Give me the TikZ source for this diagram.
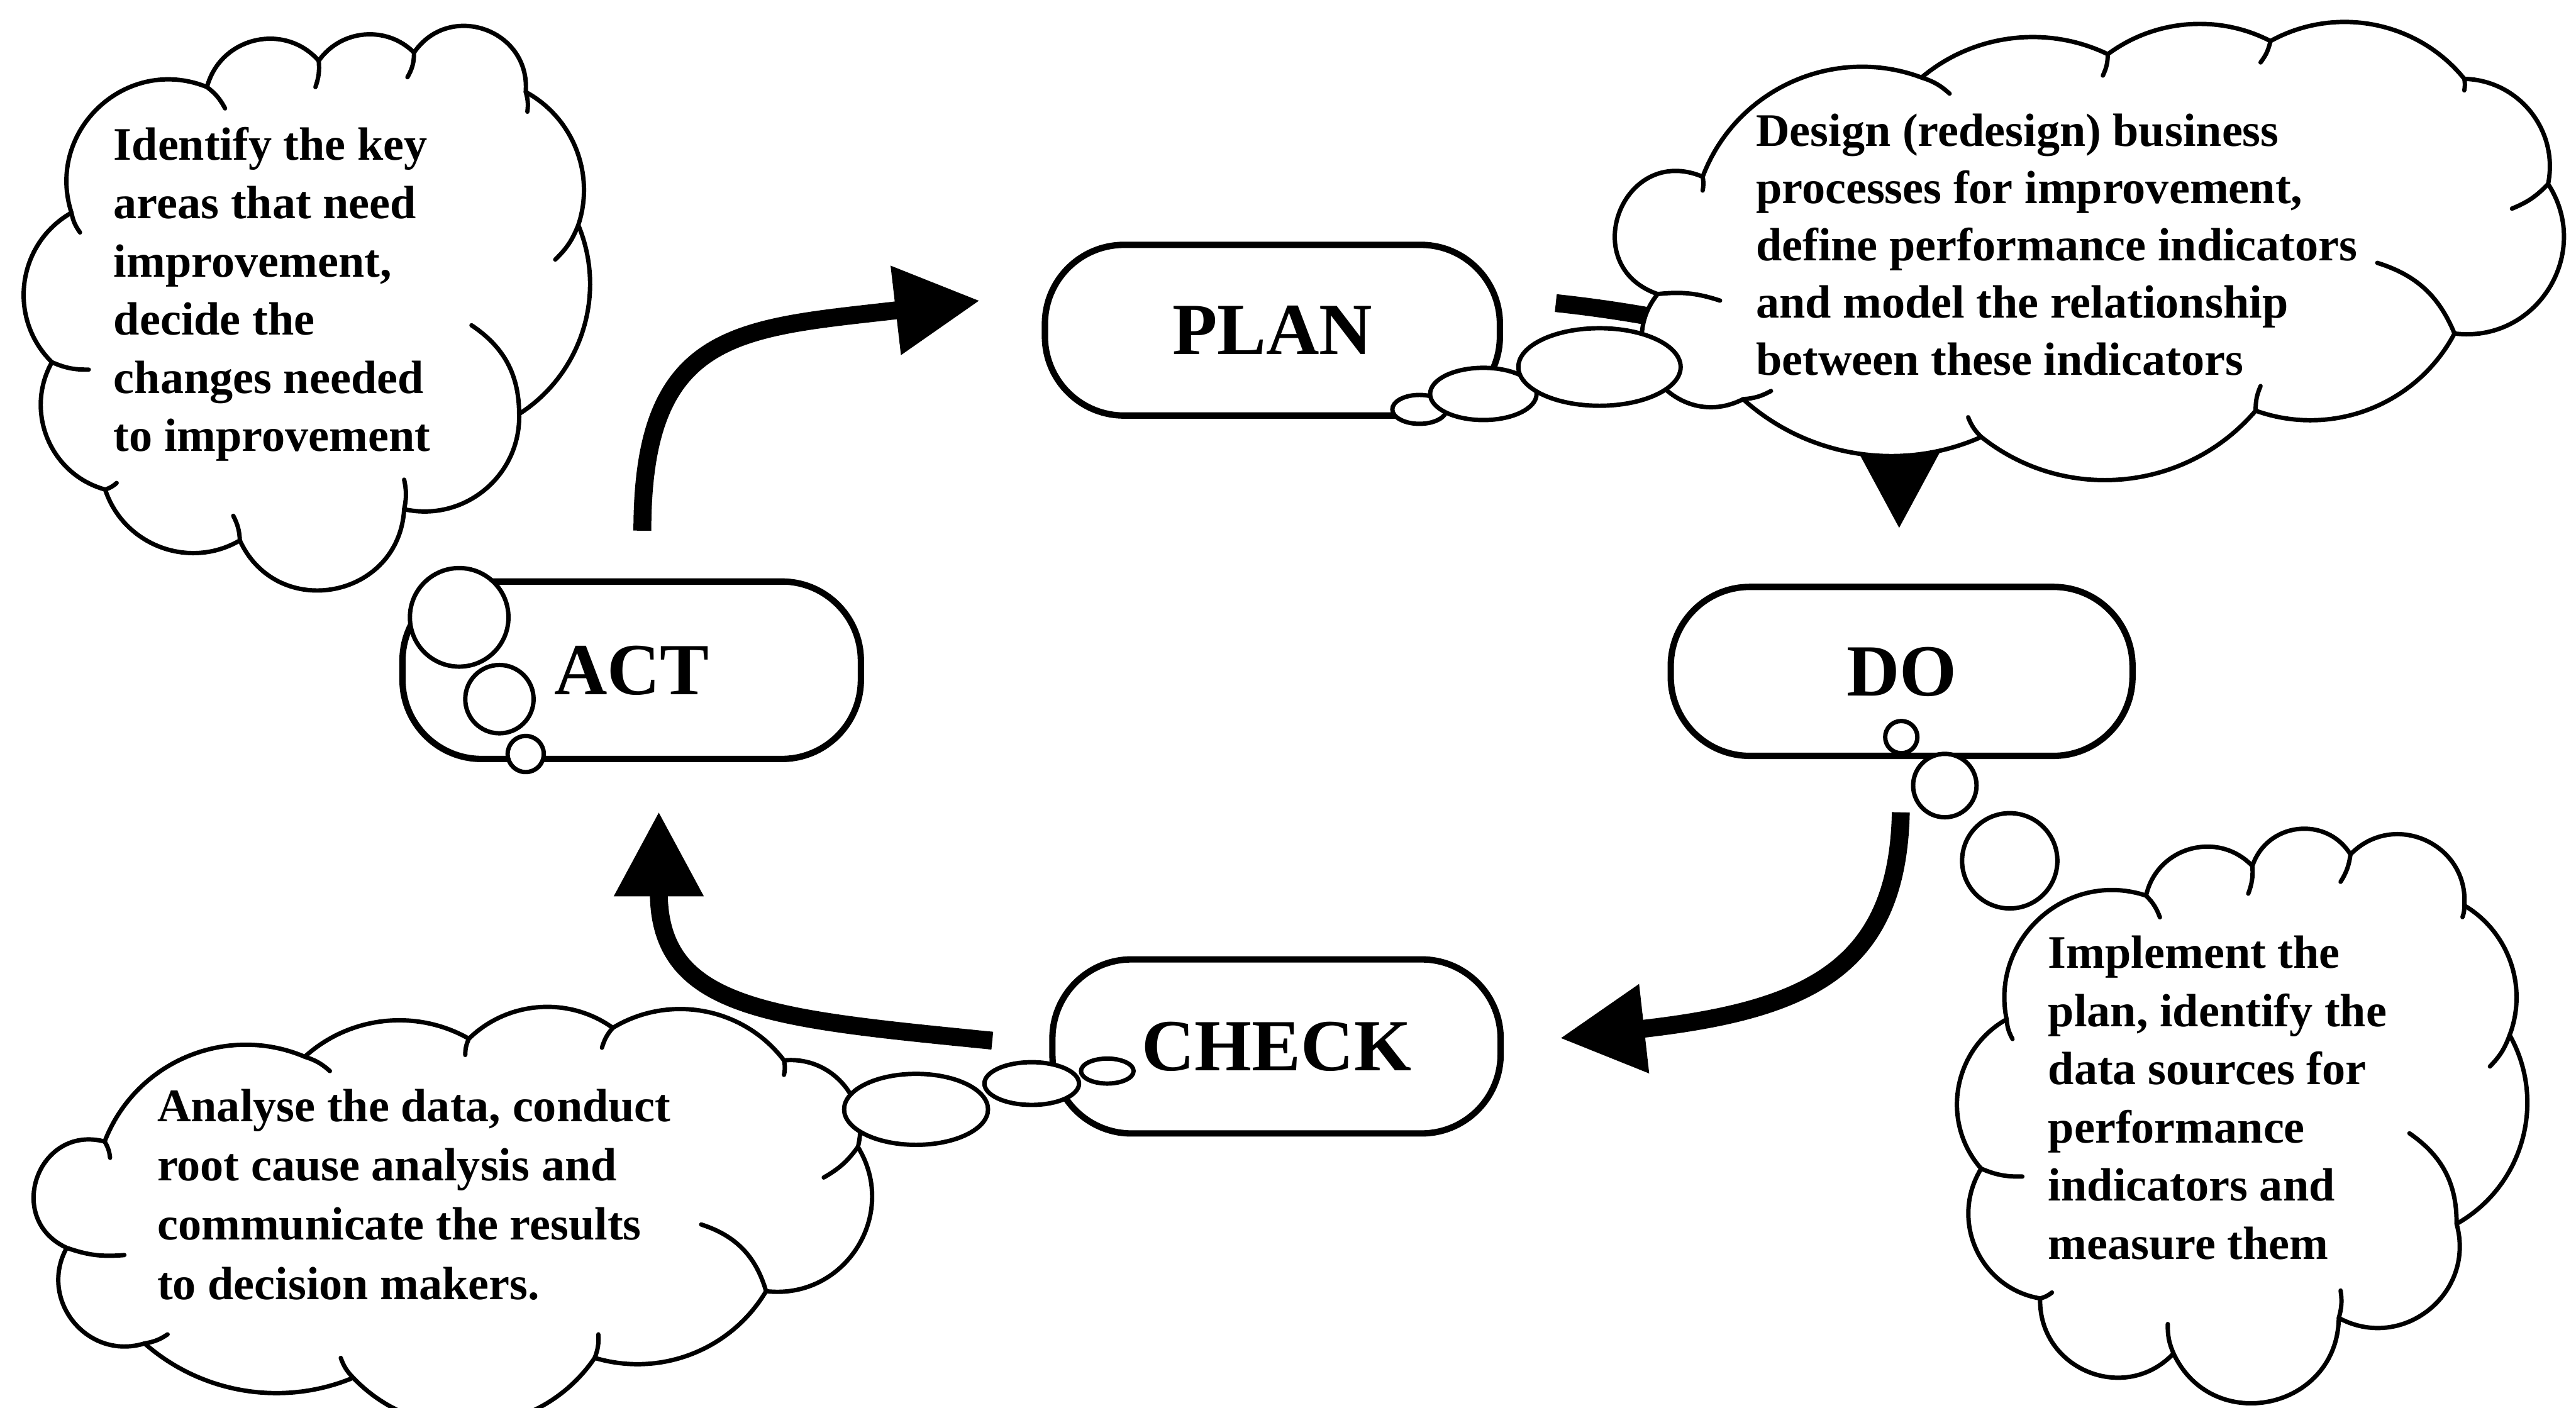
\documentclass[tikz,border=0pt]{standalone}
\usepackage{fontspec}
\setmainfont{Liberation Serif}
\usetikzlibrary{arrows.meta}
\begin{document}
\begin{tikzpicture}[x=0.029062cm,y=0.029062cm,
  cloudline/.style={line width=2.2pt, line join=round, line cap=round},
  lobe/.code={\pgfmathsetmacro\lobeloose{1.703/(1+cos(#1))}\edef\lobetmp{\noexpand\pgfkeysalso{/tikz/bend left=#1,/tikz/looseness=\lobeloose}}\lobetmp},
  stagebox/.style={draw, line width=3.2pt, rounded corners=1.4cm, inner sep=0pt, font=\bfseries\fontsize{37pt}{40pt}\selectfont, text height=24.5pt, text depth=0pt},
  bubble/.style={draw, fill=white, line width=2.2pt},
  ctext/.style={inner sep=0pt, anchor=base west, font=\bfseries\fontsize{23.5pt}{#1}\selectfont},
  ctext/.default={29.3pt},
  bigarrow/.style={line width=9pt, -{Triangle[length=1.5cm,width=1.5cm]}},
]
\fill[white] (0,0) rectangle (1568,-857);
\useasboundingbox (0,0) rectangle (1568,-857);

% ---- arrows (drawn first, PLAN->DO runs under the cloud)
\coordinate (apS) at (391,-323);   \coordinate (apE) at (596.5,-183);
\coordinate (pdS) at (947,-184.5); \coordinate (pdE) at (1156,-322);
\coordinate (dcS) at (1157,-494.5);\coordinate (dcE) at (949.5,-632);
\coordinate (caS) at (604,-633.5); \coordinate (caE) at (401,-494);
\draw[bigarrow] (apS) .. controls (391,-200) and (450,-200) .. (apE);
\draw[bigarrow] (pdS) .. controls (1045,-195) and (1156,-224) .. (pdE);
\draw[bigarrow] (dcS) .. controls (1155,-590) and (1100,-615) .. (dcE);
\draw[bigarrow] (caS) .. controls (470,-620) and (401,-615) .. (caE);

% ---- stage boxes
\node[stagebox, minimum width=8.05cm, minimum height=3.02cm] (plan)  at (774.5,-201) {PLAN};
\node[stagebox, minimum width=8.11cm, minimum height=3.14cm] (act)   at (384.5,-408) {ACT};
\node[stagebox, minimum width=8.17cm, minimum height=2.99cm] (do)    at (1157.5,-408.7) {DO};
\node[stagebox, minimum width=7.93cm, minimum height=3.08cm] (check) at (777,-637) {CHECK};

% ---- cloud 1 (top left)
\draw[cloudline, fill=white] (43.5,-129.5) to[lobe=65] (126,-53) to[lobe=62] (194,-37) to[lobe=50] (252,-32) to[lobe=75] (320,-56) to[lobe=40] (352,-137) to[lobe=40] (316,-252) to[lobe=52] (246,-310) to[lobe=76] (146,-329) to[lobe=51] (64,-298) to[lobe=52] (31.6,-220.5) to[lobe=53] (43.5,-129.5) -- cycle;
\draw[cloudline] (48.7,-141.5) to[bend left=12] (43.5,-129.5);
\draw[cloudline] (126,-53) to[bend left=12] (137,-66);
\draw[cloudline] (194,-37) to[bend left=12] (192,-53);
\draw[cloudline] (252,-32) to[bend left=15] (248,-47);
\draw[cloudline] (320,-56) to[bend left=12] (321,-68);
\draw[cloudline] (352,-137) to[bend left=12] (338,-158);
\draw[cloudline] (287,-198) to[bend left=28] (316,-252);
\draw[cloudline] (246,-292) to[bend left=12] (246,-310);
\draw[cloudline] (142,-314) to[bend left=12] (146,-329);
\draw[cloudline] (71,-294) to[bend left=12] (64,-298);
\draw[cloudline] (54,-225) to[bend left=12] (31.6,-220.5);

% ---- cloud 2 (top right)
\draw[cloudline, fill=white] (1009,-179) to[lobe=92] (1036.4,-107.6) to[lobe=45] (1169.6,-47.2) to[lobe=33] (1283,-33) to[lobe=32] (1382,-25) to[lobe=40] (1500,-48) to[lobe=50] (1551,-112) to[lobe=65] (1494,-203) to[lobe=41] (1373,-250) to[lobe=44] (1206,-266) to[lobe=33] (1061,-243) to[lobe=78] (1009,-179) -- cycle;
\draw[cloudline] (1009,-179) to[bend left=12] (1047,-183);
\draw[cloudline] (1036.4,-107.6) to[bend left=10] (1036.4,-116);
\draw[cloudline] (1169.6,-47.2) to[bend left=12] (1186.7,-57);
\draw[cloudline] (1283,-33) to[bend left=12] (1280,-46);
\draw[cloudline] (1382,-25) to[bend left=12] (1376,-38);
\draw[cloudline] (1500,-48) to[bend left=10] (1500,-55);
\draw[cloudline] (1551,-112) to[bend left=12] (1529,-127);
\draw[cloudline] (1447,-160) to[bend left=25] (1494,-203);
\draw[cloudline] (1373,-250) to[bend left=12] (1376,-235);
\draw[cloudline] (1206,-266) to[bend left=12] (1198,-254);
\draw[cloudline] (1078,-238) to[bend left=12] (1061,-243);

% ---- cloud 3 (bottom left)
\draw[cloudline, fill=white] (63.7,-694.9) to[lobe=46] (185.5,-643.3) to[lobe=36] (285.4,-632.3) to[lobe=40] (373,-625.7) to[lobe=42] (477.2,-645.5) to[lobe=55] (522.2,-698.2) to[lobe=64] (466.3,-786) to[lobe=38] (362,-826.6) to[lobe=51] (215,-838.7) to[lobe=32] (88,-817.8) to[lobe=68] (40.6,-759.6) to[lobe=85] (63.7,-694.9) -- cycle;
\draw[cloudline] (63.7,-694.9) to[bend left=12] (67,-704.8);
\draw[cloudline] (185.5,-643.3) to[bend left=12] (200.8,-652);
\draw[cloudline] (283.2,-642.2) to[bend left=12] (285.4,-632.3);
\draw[cloudline] (366.4,-637.8) to[bend left=12] (373,-625.7);
\draw[cloudline] (477.2,-645.5) to[bend left=12] (477.2,-654.3);
\draw[cloudline] (522.2,-698.2) to[bend left=12] (501.4,-716.8);
\draw[cloudline] (426.8,-745.4) to[bend left=28] (466.3,-786);
\draw[cloudline] (364.2,-812.3) to[bend left=12] (362,-826.6);
\draw[cloudline] (215,-838.7) to[bend left=12] (207.4,-826.6);
\draw[cloudline] (102,-812.3) to[bend left=12] (88,-817.8);
\draw[cloudline] (75.7,-764) to[bend left=12] (40.6,-759.6);

% ---- cloud 4 (bottom right)
\draw[cloudline, fill=white] (1221.4,-620.5) to[lobe=60] (1306.3,-545.2) to[lobe=62] (1371,-527.2) to[lobe=65] (1430.7,-520.1) to[lobe=70] (1500,-551.2) to[lobe=40] (1527.6,-630.1) to[lobe=45] (1495.3,-745) to[lobe=67] (1423.6,-802.3) to[lobe=77] (1323,-823.9) to[lobe=69] (1241.8,-790.4) to[lobe=56] (1205.9,-711.4) to[lobe=51] (1221.4,-620.5) -- cycle;
\draw[cloudline] (1225,-632.5) to[bend left=12] (1221.4,-620.5);
\draw[cloudline] (1306.3,-545.2) to[bend left=12] (1314.7,-558.4);
\draw[cloudline] (1371,-527.2) to[bend left=12] (1368.5,-544);
\draw[cloudline] (1430.7,-520.1) to[bend left=12] (1424.7,-536.8);
\draw[cloudline] (1500,-551.2) to[bend left=10] (1498.9,-558.3);
\draw[cloudline] (1527.6,-630.1) to[bend left=12] (1515.6,-649.2);
\draw[cloudline] (1466.6,-689.9) to[bend left=28] (1495.3,-745);
\draw[cloudline] (1424.7,-785.6) to[bend left=12] (1423.6,-802.3);
\draw[cloudline] (1323,-823.9) to[bend left=12] (1319.5,-806);
\draw[cloudline] (1249,-786.8) to[bend left=12] (1241.8,-790.4);
\draw[cloudline] (1231,-716.2) to[bend left=12] (1205.9,-711.4);

% ---- thought bubbles
\draw[bubble] (279.5,-375.8) circle[radius=30];
\draw[bubble] (304,-425.6) circle[radius=20.8];
\draw[bubble] (320,-459) circle[radius=11];
\draw[bubble] (864,-249.2) ellipse[x radius=16.5, y radius=8.8];
\draw[bubble] (902.9,-239.8) ellipse[x radius=32.4, y radius=15.9];
\draw[bubble] (973.6,-223.4) ellipse[x radius=49.4, y radius=23.6];
\draw[bubble] (1157.3,-448.7) circle[radius=9.8];
\draw[bubble] (1183.8,-478.2) circle[radius=19.3];
\draw[bubble] (1223.3,-524) circle[radius=29];
\draw[bubble] (674,-652) ellipse[x radius=16, y radius=7.6];
\draw[bubble] (628,-659.6) ellipse[x radius=28.8, y radius=13];
\draw[bubble] (557.6,-675.3) ellipse[x radius=43.8, y radius=21.6];

% ---- cloud texts
\node[ctext] (t1) at (69,-97.6) {\begin{tabular}[t]{@{}l@{}}Identify the key\\ areas that need\\ improvement,\\ decide the\\ changes needed\\ to improvement\end{tabular}};
\node[ctext=28.8pt] (t2) at (1068.6,-89) {\begin{tabular}[t]{@{}l@{}}Design (redesign) business\\ processes for improvement,\\ define performance indicators\\ and model the relationship\\ between these indicators\end{tabular}};
\node[ctext=29.8pt] (t3) at (95.5,-682.8) {\begin{tabular}[t]{@{}l@{}}Analyse the data, conduct\\ root cause analysis and\\ communicate the results\\ to decision makers.\end{tabular}};
\node[ctext] (t4) at (1246.5,-589.4) {\begin{tabular}[t]{@{}l@{}}Implement the\\ plan, identify the\\ data sources for\\ performance\\ indicators and\\ measure them\end{tabular}};
\end{tikzpicture}
\end{document}
